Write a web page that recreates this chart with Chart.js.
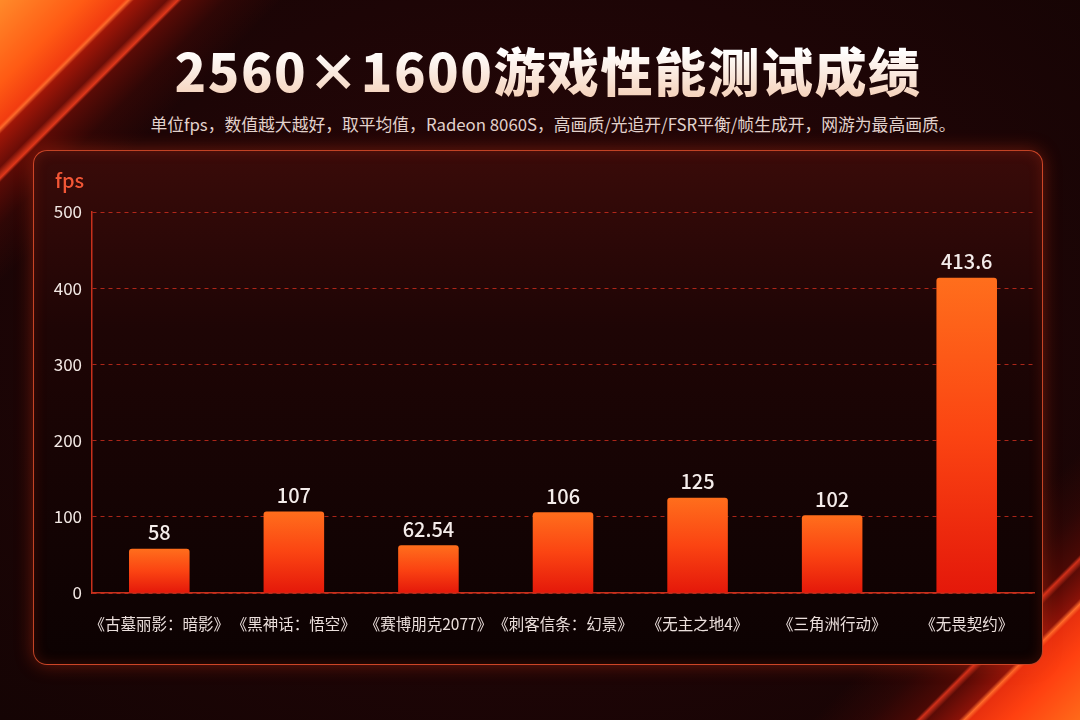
<!DOCTYPE html>
<html>
<head>
<meta charset="utf-8">
<script src="https://cdn.jsdelivr.net/npm/chart.js@4/dist/chart.umd.min.js"></script>
<style>
  html, body { margin: 0; padding: 0; }
  body {
    width: 1080px; height: 720px; overflow: hidden; position: relative;
    background: radial-gradient(ellipse at 50% 45%, #2a0708 0%, #1d0506 60%, #150404 100%);
    font-family: "Noto Sans CJK SC", "Noto Sans", sans-serif;
  }
  .deco { position: absolute; left: 0; top: 0; width: 1080px; height: 720px; }
  .tl {
    background: linear-gradient(135deg,
      #ff8a2a 0px, #ff5a14 60px, #f23c10 88px, #ff6a2a 91px, #a01608 95px,
      #6a0d07 118px, #e0381a 126px, #5a0b06 129px, rgba(60,8,6,0.6) 160px, rgba(0,0,0,0) 200px);
  }
  .br {
    background: linear-gradient(315deg,
      #ff6a1a 0px, #ff4010 50px, #e8300e 78px, #ff6a2a 82px, #8a1208 86px,
      #5a0b06 108px, #d0301a 114px, #4a0905 117px, rgba(60,8,6,0.5) 150px, rgba(0,0,0,0) 190px);
  }
  .title {
    position: absolute; left: 8px; top: 38px; width: 1080px; text-align: center;
    font-size: 52px; font-weight: 900; line-height: 64px; letter-spacing: 1.5px;
    background: linear-gradient(180deg, #ffffff 20%, #f4cdb4 100%);
    -webkit-background-clip: text; background-clip: text; color: transparent;
  }
  .sub {
    position: absolute; left: 13px; top: 112px; width: 1080px; text-align: center;
    font-size: 16.8px; color: #e2d2cc; line-height: 24px;
  }
  .panel {
    position: absolute; left: 33px; top: 150px; width: 1008px; height: 513px;
    border: 1px solid rgba(255,90,50,0.75); border-radius: 14px;
    background: linear-gradient(180deg, #3a0b09 0%, #1e0505 35%, #0c0202 100%);
    box-shadow: 0 0 18px rgba(255,60,20,0.35), inset 0 0 14px rgba(255,60,20,0.18);
  }
  canvas { position: absolute; left: 0; top: 0; }
</style>
</head>
<body>
<div class="deco tl"></div>
<div class="deco br"></div>
<div class="title">2560×1600游戏性能测试成绩</div>
<div class="sub">单位fps，数值越大越好，取平均值，Radeon 8060S，高画质/光追开/FSR平衡/帧生成开，网游为最高画质。</div>
<div class="panel"></div>
<canvas id="myChart" width="1080" height="720"></canvas>
<script>
const games = ['《古墓丽影：暗影》', '《黑神话：悟空》', '《赛博朋克2077》', '《刺客信条：幻景》', '《无主之地4》', '《三角洲行动》', '《无畏契约》']
const fpsValues = [58, 107, 62.54, 106, 125, 102, 413.6]
const valueLabels = ['58', '107', '62.54', '106', '125', '102', '413.6']
const yTicks = [0, 100, 200, 300, 400, 500]

const fontFamily = '"Noto Sans CJK SC", "Noto Sans", sans-serif'

// each bar gets its own orange -> red gradient, top to bottom
function barGradient(context) {
  const chart = context.chart
  const area = chart.chartArea
  const yScale = chart.scales.y
  if (!area || !yScale) return '#f03a10'
  const top = yScale.getPixelForValue(context.raw)
  const g = chart.ctx.createLinearGradient(0, top, 0, area.bottom)
  g.addColorStop(0, '#ff6e1c')
  g.addColorStop(0.5, '#fb4412')
  g.addColorStop(1, '#e4180a')
  return g
}

// value labels above each bar
const valueLabelPlugin = {
  id: 'valueLabels',
  afterDatasetsDraw(chart) {
    const ctx = chart.ctx
    const meta = chart.getDatasetMeta(0)
    ctx.save()
    ctx.fillStyle = '#f4ecea'
    ctx.font = '500 20px ' + fontFamily
    ctx.textAlign = 'center'
    ctx.textBaseline = 'bottom'
    meta.data.forEach(function(bar, i) {
      ctx.fillText(valueLabels[i], bar.x, bar.y - 6)
    })
    ctx.restore()
  }
}

// "fps" unit label above the y axis
const unitPlugin = {
  id: 'unitLabel',
  afterDraw(chart) {
    const ctx = chart.ctx
    ctx.save()
    ctx.fillStyle = '#f25636'
    ctx.font = '500 20px ' + fontFamily
    ctx.textAlign = 'left'
    ctx.textBaseline = 'middle'
    ctx.fillText('fps', 55, 180)
    ctx.restore()
  }
}

const ctx = document.getElementById('myChart').getContext('2d')
const myChart = new Chart(ctx, {
  type: 'bar',
  data: {
    labels: games,
    datasets: [{
      data: fpsValues,
      backgroundColor: barGradient,
      borderRadius: { topLeft: 3, topRight: 3 },
      borderSkipped: 'bottom',
      barPercentage: 0.45,
      categoryPercentage: 1.0
    }]
  },
  options: {
    responsive: false,
    animation: false,
    devicePixelRatio: 1,
    layout: { padding: { left: 0, top: 212, right: 46, bottom: 67 } },
    plugins: {
      legend: { display: false },
      tooltip: { enabled: false }
    },
    scales: {
      x: {
        grid: { display: false, drawTicks: false },
        border: { display: true, color: '#c8301c', width: 1.5 },
        ticks: {
          color: '#eadedb',
          font: { family: fontFamily, size: 15.5 },
          padding: 22,
          maxRotation: 0,
          autoSkip: false
        },
        afterFit(scale) { scale.height = 60 }
      },
      y: {
        min: 0,
        max: 500,
        afterBuildTicks(scale) { scale.ticks = yTicks.map(function(v) { return { value: v } }) },
        grid: {
          color: 'rgba(220,50,32,0.75)',
          lineWidth: 1,
          drawTicks: false
        },
        border: { display: true, color: '#c8301c', width: 1.5, dash: [4, 4] },
        ticks: {
          color: '#f2e8e4',
          font: { family: fontFamily, size: 17 },
          padding: 10
        },
        afterFit(scale) { scale.width = 92 }
      }
    }
  },
  plugins: [valueLabelPlugin, unitPlugin]
})
</script>
</body>
</html>
